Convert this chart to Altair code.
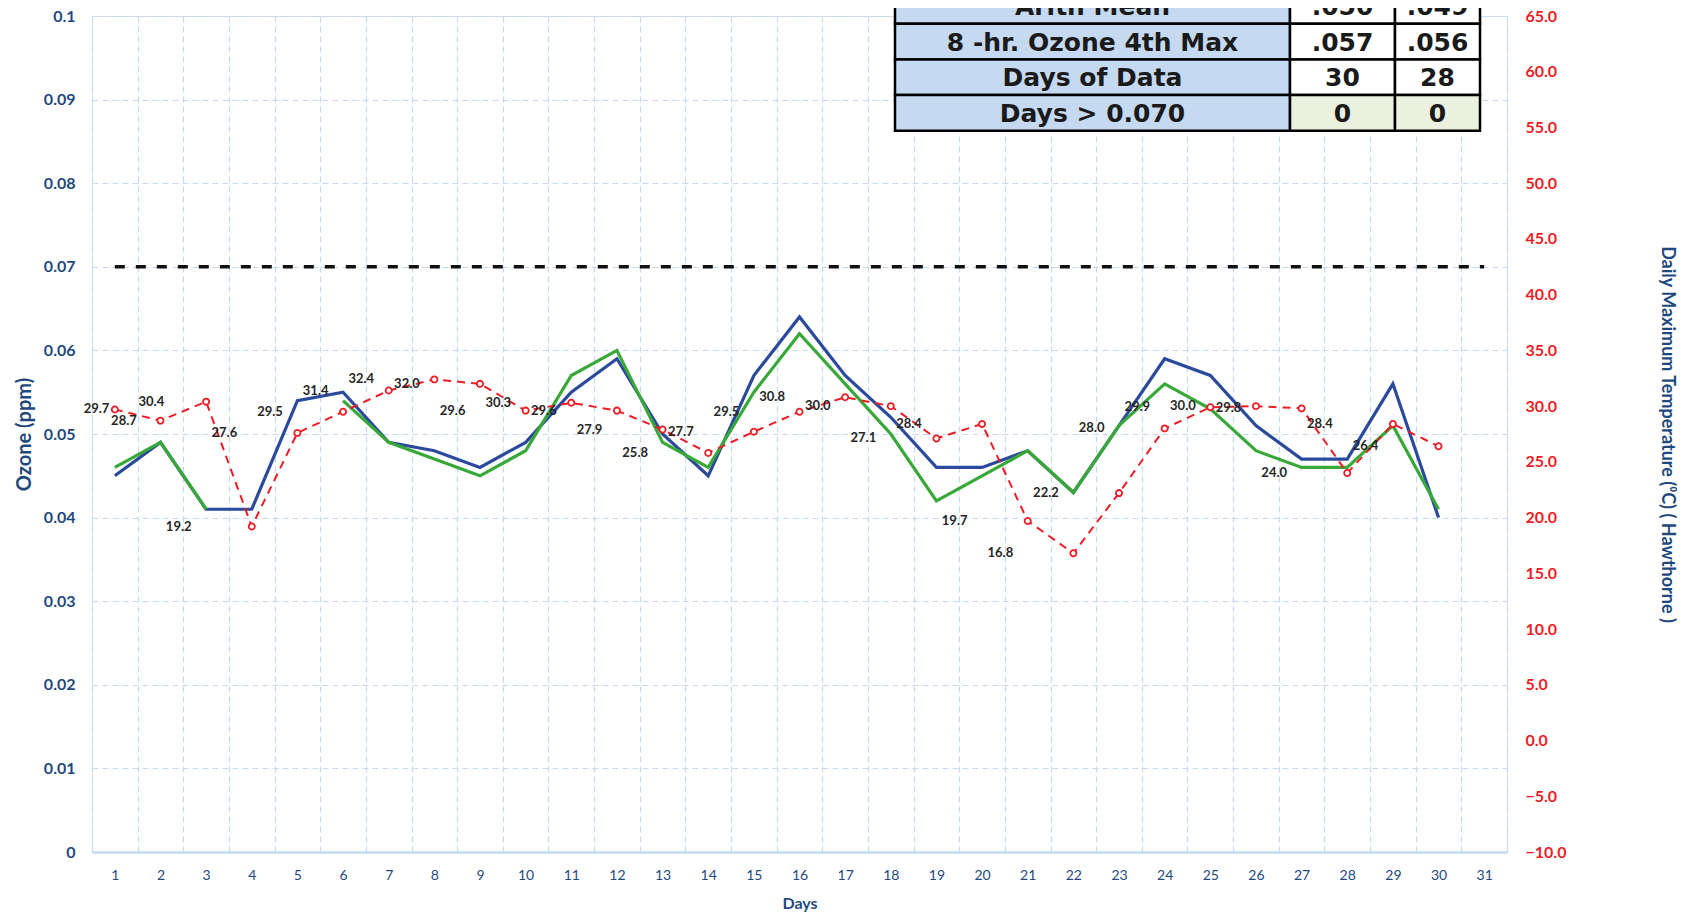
import altair as alt
import pandas as pd

# ---------------- data ----------------
days = list(range(1, 31))
axis_days = list(range(1, 32))
ozone_site1 = [0.045, 0.049, 0.041, 0.041, 0.054, 0.055, 0.049, 0.048, 0.046, 0.049,
               0.055, 0.059, 0.050, 0.045, 0.057, 0.064, 0.057, 0.052, 0.046, 0.046,
               0.048, 0.043, 0.051, 0.059, 0.057, 0.051, 0.047, 0.047, 0.056, 0.040]
ozone_site2 = [0.046, 0.049, 0.041, None, None, 0.054, 0.049, 0.047, 0.045, 0.048,
               0.057, 0.060, 0.049, 0.046, 0.055, 0.062, 0.056, 0.050, 0.042, 0.045,
               0.048, 0.043, 0.051, 0.056, 0.053, 0.048, 0.046, 0.046, 0.051, 0.041]
temps = [29.7, 28.7, 30.4, 19.2, 27.6, 29.5, 31.4, 32.4, 32.0, 29.6,
         30.3, 29.6, 27.9, 25.8, 27.7, 29.5, 30.8, 30.0, 27.1, 28.4,
         19.7, 16.8, 22.2, 28.0, 29.9, 30.0, 29.8, 24.0, 28.4, 26.4]
standard = 0.070
ozone_ticks = [0.0, 0.01, 0.02, 0.03, 0.04, 0.05, 0.06, 0.07, 0.08, 0.09, 0.1]
temp_ticks = [-10, -5, 0, 5, 10, 15, 20, 25, 30, 35, 40, 45, 50, 55, 60, 65]

table_rows = ["Arith Mean", "8 -hr. Ozone 4th Max", "Days of Data", "Days > 0.070"]
site1_stats = [".050", ".057", "30", "0"]
site2_stats = [".049", ".056", "28", "0"]

# ---------------- layout / style ----------------
W, H = 1415, 836
BLUE = "#2B4A9C"
GREEN = "#38A938"
RED = "#EE1C25"
NAVY = "#1F497D"
GRID = "#C5D9F1"

df1 = pd.DataFrame({"day": days, "ozone": ozone_site1})
s, rows2 = 0, []
for d, v in zip(days, ozone_site2):
    if v is None:
        s += 1
        continue
    rows2.append({"day": d, "ozone": v, "seg": s})
df2 = pd.DataFrame(rows2)
dft = pd.DataFrame({"day": days, "temp": temps})

xscale = alt.Scale(domain=[0.5, 31.5], nice=False, zero=False)
xaxis = alt.Axis(
    values=[d - 0.5 for d in axis_days] + [axis_days[-1] + 0.5],
    labelExpr="datum.value < 31 ? format(datum.value + 0.5, 'd') : ''",
    labelOffset=W / 31 / 2, labelFlush=False, labelOverlap=False,
    ticks=False, grid=True, gridColor=GRID, gridDash=[6, 4], gridWidth=1.2,
    domain=True, domainColor=GRID, domainWidth=2.5,
    labelFont="Lato", labelFontSize=14, labelColor=NAVY, labelPadding=16,
    title="Days", titleFont="Lato", titleFontSize=16, titleFontWeight="bold",
    titleColor=NAVY, titlePadding=13,
)
X = alt.X("day:Q", scale=xscale, axis=xaxis)

ozone_scale = alt.Scale(domain=[0, 0.1], nice=False, zero=False)
left_axis = alt.Axis(
    orient="left", values=ozone_ticks,
    labelExpr="format(datum.value, '.2~f')",
    ticks=False, domain=False, grid=True, gridColor=GRID, gridDash=[6, 4], gridWidth=1.2,
    labelFont="Lato", labelFontSize=16, labelFontWeight="bold", labelColor=NAVY,
    labelPadding=17,
    title="Ozone  (ppm)", titleFont="Lato", titleFontSize=20, titleFontWeight="bold",
    titleColor=NAVY, titlePadding=9,
)
yleft = alt.Y("ozone:Q", scale=ozone_scale, axis=left_axis)

yright = alt.Y(
    "temp:Q",
    scale=alt.Scale(domain=[-10, 65], nice=False, zero=False),
    axis=alt.Axis(
        orient="right", values=temp_ticks, format=".1f",
        ticks=False, domain=False, grid=False,
        labelFont="Lato", labelFontSize=16, labelFontWeight="bold", labelColor=RED,
        labelPadding=18,
        title="Daily Maximum Temperature  (\u2070C)  ( Hawthorne )",
        titleFont="Lato", titleFontSize=18, titleFontWeight="bold",
        titleColor=NAVY, titlePadding=92,
    ),
)

blue = alt.Chart(df1).mark_line(color=BLUE, strokeWidth=3.2).encode(x=X, y=yleft)
green = alt.Chart(df2).mark_line(color=GREEN, strokeWidth=3.2).encode(
    x=X, y=yleft, detail="seg:N")
rule = alt.Chart(pd.DataFrame({"v": [standard]})).mark_rule(
    color="#111111", strokeWidth=3.5, strokeDash=[10, 11]
).encode(
    x=alt.X(datum=days[0], scale=xscale, axis=xaxis),
    x2=alt.X2(datum=axis_days[-1]),
    y=alt.Y("v:Q", scale=ozone_scale, axis=left_axis),
)
left = alt.layer(blue, green, rule)

tline = alt.Chart(dft).mark_line(color=RED, strokeWidth=2, strokeDash=[8, 6]).encode(x=X, y=yright)
tpts = alt.Chart(dft).mark_point(
    shape="circle", fill="white", stroke=RED, strokeWidth=1.8, size=38, opacity=1, fillOpacity=1
).encode(x=X, y=yright)
tlabels = alt.Chart(dft).transform_calculate(
    lx="max(datum.day - 1.6, 0.6 * datum.day)"
).mark_text(font="Lato", fontSize=13, fontWeight="bold", color="#262626").encode(
    x=alt.X("lx:Q", scale=xscale, axis=xaxis), y=yright, text=alt.Text("temp:Q", format=".1f"))
right = alt.layer(tline, tpts, tlabels)

# summary table (layout in plot pixels)
col_edges = [803, 1198, 1303, 1388]
row_top, row_h = -28.0, 35.7
cells = []
for r, lab in enumerate(table_rows):
    vals = [lab, site1_stats[r], site2_stats[r]]
    for c, t in enumerate(vals):
        fill = "#C5D9F1" if c == 0 else ("#EBF1DE" if r == len(table_rows) - 1 else "#FFFFFF")
        cells.append({
            "x0": col_edges[c], "x1": col_edges[c + 1],
            "y0": row_top + r * row_h, "y1": row_top + (r + 1) * row_h,
            "xc": (col_edges[c] + col_edges[c + 1]) / 2,
            "yc": row_top + (r + 0.5) * row_h + 1,
            "text": t, "fill": fill,
        })
cdf = pd.DataFrame(cells)
trect = alt.Chart(cdf).mark_rect(stroke="#000000", strokeWidth=2.5).encode(
    x=alt.X("x0:Q", scale=None, axis=None), x2="x1:Q",
    y=alt.Y("y0:Q", scale=None, axis=None), y2="y1:Q",
    fill=alt.Fill("fill:N", scale=None),
)
ttext = alt.Chart(cdf).mark_text(font="DejaVu Sans", fontSize=25, fontWeight="bold",
                                 color="#1A1A1A", baseline="middle").encode(
    x=alt.X("xc:Q", scale=None, axis=None),
    y=alt.Y("yc:Q", scale=None, axis=None),
    text="text:N",
)
table = alt.layer(trect, ttext)

chart = alt.layer(left, right, table).resolve_scale(y="independent").properties(
    width=W, height=H,
    autosize=alt.AutoSizeParams(type="none"),
    padding={"left": 84, "top": 8, "right": 175, "bottom": 60},
).configure_view(stroke=None).configure(background="white")

chart.save("out.html", embed_options={"renderer": "svg", "actions": False})
